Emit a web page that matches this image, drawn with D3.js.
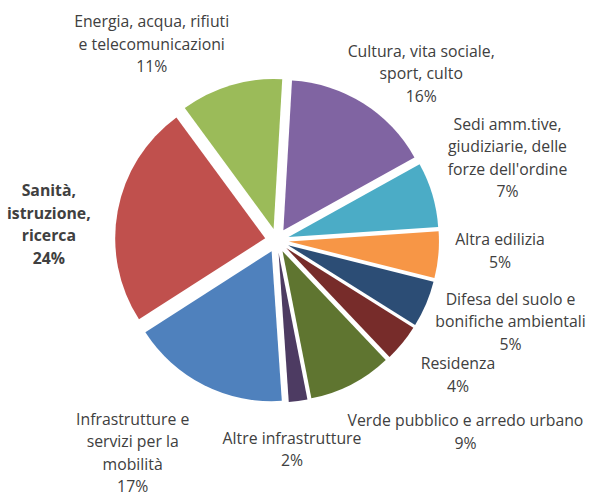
<!DOCTYPE html>
<html>
<head>
<meta charset="utf-8">
<script src="https://cdn.jsdelivr.net/npm/d3@7"></script>
<style>
  body { margin: 0; background: #fff; }
  text { font-family: "Open Sans", "Noto Sans", sans-serif; fill: #404040; }
</style>
</head>
<body>
<div id="chart"></div>
<script>
const width = 591;
const height = 497;

// data, clockwise from the top
const categories = [
  ["Cultura, vita sociale,", "sport, culto"],
  ["Sedi amm.tive,", "giudiziarie, delle", "forze dell'ordine"],
  ["Altra edilizia"],
  ["Difesa del suolo e", "bonifiche ambientali"],
  ["Residenza"],
  ["Verde pubblico e arredo urbano"],
  ["Altre infrastrutture"],
  ["Infrastrutture e", "servizi per la", "mobilità"],
  ["Sanità,", "istruzione,", "ricerca"],
  ["Energia, acqua, rifiuti", "e telecomunicazioni"]
];
const values = [16, 7, 5, 5, 4, 9, 2, 17, 24, 11];
const colors = ["#8064A2", "#4BACC6", "#F79646", "#2C4D75", "#772C2A",
                "#5F7530", "#4D3B62", "#4F81BD", "#C0504D", "#9BBB59"];
const boldLabel = [false, false, false, false, false, false, false, false, true, false];
// label nudges from the base label ring
const labelNudge = [[22, 28], [10, -17], [-6, -10], [22, -9], [3, -11],
                    [83, -13], [-15, -19], [-41, 7], [-2, 26], [-60, 24]];

const cx = 277, cy = 240.5;
const radius = 150;
const explode = 12;
const labelRadius = 230;
const lineH = 22.5;
const rot = 3.3 * Math.PI / 180;

const svg = d3.select("#chart")
  .append("svg")
  .attr("width", width)
  .attr("height", height);

const g = svg.append("g").attr("transform", "translate(" + cx + "," + cy + ")");

const pie = d3.pie().sort(null).value(d => d)
  .startAngle(rot).endAngle(rot + 2 * Math.PI);
const arcs = pie(values);

const arc = d3.arc().innerRadius(0).outerRadius(radius);
const labelArc = d3.arc().innerRadius(labelRadius).outerRadius(labelRadius);

//slices, each pushed out along its middle angle
g.selectAll("path")
  .data(arcs)
  .enter()
  .append("path")
  .attr("d", arc)
  .attr("fill", (d, i) => colors[i])
  .attr("transform", d => {
    const mid = (d.startAngle + d.endAngle) / 2;
    return "translate(" + explode * Math.sin(mid) + "," + (-explode * Math.cos(mid)) + ")";
  });

//labels: category lines + percentage
g.selectAll("text.lbl")
  .data(arcs)
  .enter()
  .append("text")
  .attr("class", "lbl")
  .attr("text-anchor", "middle")
  .style("font-size", "15.8px")
  .style("font-weight", (d, i) => boldLabel[i] ? "bold" : "normal")
  .each(function (d, i) {
    const c = labelArc.centroid(d);
    const x = c[0] + labelNudge[i][0];
    const y = c[1] + labelNudge[i][1];
    const lines = categories[i].concat([d3.format(".0f")(values[i]) + "%"]);
    const top = y - (lines.length - 1) * lineH / 2;
    const t = d3.select(this);
    lines.forEach((ln, k) => {
      t.append("tspan")
        .attr("x", x)
        .attr("y", top + k * lineH)
        .attr("dy", "0.35em")
        .text(ln);
    });
  });
</script>
</body>
</html>
